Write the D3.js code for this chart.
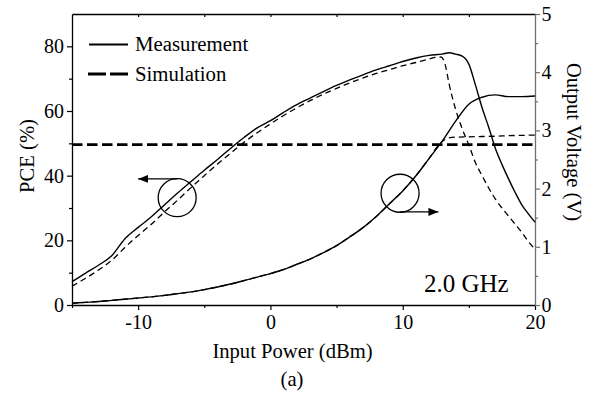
<!DOCTYPE html>
<html>
<head>
<meta charset="utf-8">
<script src="https://cdn.jsdelivr.net/npm/d3@7"></script>
<style>
  html, body { margin: 0; padding: 0; background: #fff; }
  svg { display: block; }
  text { font-family: "Liberation Serif", "Times New Roman", serif; fill: #000; }
</style>
</head>
<body>
<svg id="chart" width="596" height="395"></svg>
<script>
// Input power sweep (dBm) and measured / simulated results at 2.0 GHz
const powerMeasPce = [-15,-14,-13,-12,-11,-10,-9,-8,-7,-6,-5,-4,-3,-2,-1,0,1,2,3,4,5,6,7,8,9,10,11,12,13,13.5,14,14.5,15,15.5,16,16.5,17,17.5,18,18.5,19,19.5,20];
const pceMeas = [7.2,9.8,12.3,15.2,20.5,24.0,27.3,31.0,34.7,38.2,41.7,45.0,48.5,51.8,54.8,57.0,59.6,62.0,64.0,66.0,67.9,69.6,71.2,72.7,74.0,75.3,76.4,77.2,77.6,78.0,77.6,77.0,74.5,68.0,61.0,55.0,48.5,43.5,39.0,34.8,31.0,28.2,25.6];

const powerSimPce = [-15,-14,-13,-12,-11,-10,-9,-8,-7,-6,-5,-4,-3,-2,-1,0,1,2,3,4,5,6,7,8,9,10,11,12,12.5,12.9,13.2,13.5,14,14.5,15,15.5,16,16.5,17,17.5,18,18.5,19,19.5,20];
const pceSim = [5.8,8.2,10.8,13.8,17.8,21.5,25.0,28.8,32.5,36.3,40.0,43.6,47.0,50.3,53.3,56.0,58.6,61.0,63.2,65.2,67.0,68.7,70.2,71.6,72.8,74.0,75.0,76.1,76.6,76.7,74.5,68.5,60.5,54.5,49.5,44.0,40.0,36.2,32.8,30.0,27.5,25.0,22.5,19.6,17.3];

const powerMeasVolt = [-15,-14,-13,-12,-11,-10,-9,-8,-7,-6,-5,-4,-3,-2,-1,0,1,2,3,4,5,6,7,8,9,10,11,12,13,14,15,16,17,18,19,20];
const voltMeas = [0.03,0.045,0.06,0.08,0.10,0.12,0.14,0.165,0.195,0.225,0.265,0.31,0.36,0.42,0.48,0.54,0.61,0.70,0.79,0.90,1.02,1.17,1.33,1.52,1.74,1.96,2.22,2.52,2.82,3.16,3.45,3.57,3.61,3.58,3.58,3.59];

const powerSimVolt = [-15,-14,-13,-12,-11,-10,-9,-8,-7,-6,-5,-4,-3,-2,-1,0,1,2,3,4,5,6,7,8,9,10,11,12,12.8,13.7,15,16,17,18,19,20];
const voltSim = [0.03,0.045,0.06,0.08,0.10,0.12,0.14,0.165,0.195,0.225,0.265,0.31,0.36,0.42,0.48,0.54,0.61,0.70,0.79,0.90,1.02,1.17,1.33,1.52,1.74,1.96,2.22,2.52,2.77,2.88,2.89,2.895,2.90,2.91,2.915,2.92];

// horizontal reference level (PCE, %)
const referencePce = [49.6];

// tick values
const xTicks = [-10, 0, 10, 20];
const xMinorTicks = [-15, -5, 5, 15];
const pceTicks = [0, 20, 40, 60, 80];
const pceMinorTicks = [10, 30, 50, 70];
const voltTicks = [0, 1, 2, 3, 4, 5];
const voltMinorTicks = [0.5, 1.5, 2.5, 3.5, 4.5];

// annotation markers: [power, value]
const pceMarker = [-7.05, 33.2];
const pceArrow = [[-7.05, 39.0], [-10.0, 39.0]];
const voltMarker = [9.8, 1.92];
const voltArrow = [[9.8, 1.6], [12.7, 1.6]];

const svg = d3.select("#chart");
const plotLeft = 72, plotRight = 535, plotTop = 14, plotBottom = 305;

const x = d3.scaleLinear().domain([-15, 20]).range([plotLeft, plotRight]);
const yL = d3.scaleLinear().domain([0, 90]).range([plotBottom, plotTop]);
const yR = d3.scaleLinear().domain([0, 5]).range([plotBottom, plotTop]);

const tickFont = "20px";
const plain = d => String(d);

// ---- axes ----
function styleAxis(g, color) {
  g.select(".domain").attr("stroke", color).attr("stroke-width", 1.3);
  g.selectAll(".tick line").attr("stroke", color).attr("stroke-width", 1.2);
  g.selectAll(".tick text").style("font-size", tickFont)
    .style("font-family", '"Liberation Serif", "Times New Roman", serif').attr("fill", "#000");
}

// bottom
const gx = svg.append("g").attr("transform", `translate(0,${plotBottom})`)
  .call(d3.axisBottom(x).tickValues(xTicks).tickSize(5).tickSizeOuter(0).tickPadding(4.5).tickFormat(plain));
styleAxis(gx, "#000");
svg.append("g").attr("transform", `translate(0,${plotBottom})`)
  .call(d3.axisBottom(x).tickValues(xMinorTicks).tickSize(3).tickSizeOuter(0).tickFormat(""))
  .call(g => { g.select(".domain").remove(); g.selectAll("line").attr("stroke", "#000").attr("stroke-width", 1.2); });

// top (inward ticks)
svg.append("g").attr("transform", `translate(0,${plotTop})`)
  .call(d3.axisBottom(x).tickValues([-10, -5, 0, 5, 10, 15]).tickSize(3).tickSizeOuter(0).tickFormat(""))
  .call(g => { g.select(".domain").attr("stroke", "#000").attr("stroke-width", 1.3); g.selectAll("line").attr("stroke", "#000").attr("stroke-width", 1.2); });

// left
const gl = svg.append("g").attr("transform", `translate(${plotLeft},0)`)
  .call(d3.axisLeft(yL).tickValues(pceTicks).tickSize(5).tickSizeOuter(0).tickPadding(3).tickFormat(plain));
styleAxis(gl, "#000");
svg.append("g").attr("transform", `translate(${plotLeft},0)`)
  .call(d3.axisLeft(yL).tickValues(pceMinorTicks).tickSize(3).tickFormat(""))
  .call(g => { g.select(".domain").remove(); g.selectAll("line").attr("stroke", "#000").attr("stroke-width", 1.2); });

// right (grey)
const gr = svg.append("g").attr("transform", `translate(${plotRight},0)`)
  .call(d3.axisRight(yR).tickValues(voltTicks).tickSize(5).tickSizeOuter(0).tickPadding(1.5).tickFormat(plain));
styleAxis(gr, "#6e6e6e");
svg.append("g").attr("transform", `translate(${plotRight},0)`)
  .call(d3.axisRight(yR).tickValues(voltMinorTicks).tickSize(3).tickFormat(""))
  .call(g => { g.select(".domain").remove(); g.selectAll("line").attr("stroke", "#6e6e6e").attr("stroke-width", 1.2); });

// ---- curves ----
const plot = svg.append("g");
const lineL = d3.line().x(d => x(d[0])).y(d => yL(d[1])).curve(d3.curveMonotoneX);
const lineR = d3.line().x(d => x(d[0])).y(d => yR(d[1])).curve(d3.curveMonotoneX);

const zip = (a, b) => a.map((v, i) => [v, b[i]]);

plot.append("path").datum(zip(powerSimVolt, voltSim)).attr("d", lineR)
  .attr("fill", "none").attr("stroke", "#000").attr("stroke-width", 1.3).attr("stroke-dasharray", "6,4");
plot.append("path").datum(zip(powerMeasVolt, voltMeas)).attr("d", lineR)
  .attr("fill", "none").attr("stroke", "#000").attr("stroke-width", 1.4);
plot.append("path").datum(zip(powerSimPce, pceSim)).attr("d", lineL)
  .attr("fill", "none").attr("stroke", "#000").attr("stroke-width", 1.3).attr("stroke-dasharray", "6,4");
plot.append("path").datum(zip(powerMeasPce, pceMeas)).attr("d", lineL)
  .attr("fill", "none").attr("stroke", "#000").attr("stroke-width", 1.4);

// reference level
plot.selectAll(".ref").data(referencePce).join("line").attr("class", "ref")
  .attr("x1", x(-15)).attr("x2", x(20)).attr("y1", d => yL(d)).attr("y2", d => yL(d))
  .attr("stroke", "#000").attr("stroke-width", 2.6).attr("stroke-dasharray", "10.5,4.5");

// ---- annotations ----
const defs = svg.append("defs");
defs.append("marker").attr("id", "arrow").attr("viewBox", "0 0 10 8")
  .attr("refX", 10).attr("refY", 4).attr("markerWidth", 10).attr("markerHeight", 8)
  .attr("markerUnits", "userSpaceOnUse").attr("orient", "auto")
  .append("path").attr("d", "M0,0 L10,4 L0,8 Z").attr("fill", "#000");

plot.append("circle").attr("cx", x(pceMarker[0])).attr("cy", yL(pceMarker[1])).attr("r", 19)
  .attr("fill", "none").attr("stroke", "#000").attr("stroke-width", 1.3);
plot.append("line").attr("x1", x(pceArrow[0][0])).attr("y1", yL(pceArrow[0][1]))
  .attr("x2", x(pceArrow[1][0])).attr("y2", yL(pceArrow[1][1]))
  .attr("stroke", "#000").attr("stroke-width", 1.4).attr("marker-end", "url(#arrow)");

plot.append("circle").attr("cx", x(voltMarker[0])).attr("cy", yR(voltMarker[1])).attr("r", 19)
  .attr("fill", "none").attr("stroke", "#000").attr("stroke-width", 1.3);
plot.append("line").attr("x1", x(voltArrow[0][0])).attr("y1", yR(voltArrow[0][1]))
  .attr("x2", x(voltArrow[1][0])).attr("y2", yR(voltArrow[1][1]))
  .attr("stroke", "#000").attr("stroke-width", 1.4).attr("marker-end", "url(#arrow)");

// ---- legend ----
const legend = svg.append("g");
legend.append("line").attr("x1", 89).attr("x2", 128).attr("y1", 44.5).attr("y2", 44.5)
  .attr("stroke", "#000").attr("stroke-width", 1.8);
legend.append("text").attr("x", 135).attr("y", 51).style("font-size", "20.8px").text("Measurement");
legend.append("line").attr("x1", 88).attr("x2", 128).attr("y1", 74).attr("y2", 74)
  .attr("stroke", "#000").attr("stroke-width", 2.8).attr("stroke-dasharray", "18,4");
legend.append("text").attr("x", 135).attr("y", 81).style("font-size", "20.8px").text("Simulation");

// frequency label
svg.append("text").attr("x", 424).attr("y", 292).style("font-size", "25px").text("2.0 GHz");

// ---- axis titles ----
svg.append("text").attr("x", 292.5).attr("y", 358).attr("text-anchor", "middle")
  .style("font-size", "20.6px").text("Input Power (dBm)");
svg.append("text").attr("x", 292).attr("y", 386).attr("text-anchor", "middle")
  .style("font-size", "20.6px").text("(a)");
svg.append("text").attr("transform", "translate(34,156) rotate(-90)").attr("text-anchor", "middle")
  .style("font-size", "20.6px").text("PCE (%)");
svg.append("text").attr("transform", "translate(567,142) rotate(90)").attr("text-anchor", "middle")
  .style("font-size", "20.6px").text("Output Voltage (V)");
</script>
</body>
</html>
